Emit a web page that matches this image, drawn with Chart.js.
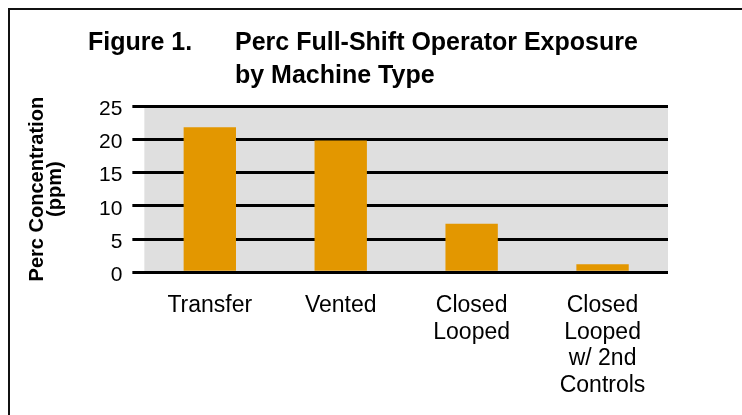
<!DOCTYPE html>
<html>
<head>
<meta charset="utf-8">
<script src="https://cdn.jsdelivr.net/npm/chart.js@4"></script>
<style>
  body { margin: 0; background: #fff; }
  #wrap { position: relative; width: 742px; height: 415px; overflow: hidden; }
  #chart { position: absolute; left: 0; top: 0; }
  #frame { position: absolute; left: 8px; top: 8px; width: 800px; height: 500px;
           border-left: 2px solid #111; border-top: 2px solid #111; }
  .t { position: absolute; top: 25px; font: bold 25px "Liberation Sans", Arial, sans-serif;
       line-height: 33px; color: #000; white-space: nowrap; }
</style>
</head>
<body>
<div id="wrap">
  <canvas id="chart" width="742" height="415"></canvas>
  <div id="frame"></div>
  <div class="t" style="left:88px">Figure 1.</div>
  <div class="t" style="left:235px">Perc Full-Shift Operator Exposure<br>by Machine Type</div>
</div>
<script>
// values
const categories = ['Transfer', 'Vented', ['Closed', 'Looped'], ['Closed', 'Looped', 'w/ 2nd', 'Controls']];
const exposure = [21.8, 19.8, 7.3, 1.2];
const yTitle = ['Perc Concentration', '(ppm)'];

// grey plot background
const plotBg = {
  id: 'plotBg',
  beforeDraw(chart) {
    const {ctx, chartArea: a} = chart;
    ctx.save();
    ctx.fillStyle = '#dfdfdf';
    ctx.fillRect(a.left, a.top, a.right - a.left, a.bottom - a.top);
    ctx.restore();
  }
};

const font = 'Liberation Sans, Arial, sans-serif';

new Chart(document.getElementById('chart'), {
  type: 'bar',
  data: {
    labels: categories,
    datasets: [{
      data: exposure,
      backgroundColor: '#e39700',
      barPercentage: 0.4,
      categoryPercentage: 1.0
    }]
  },
  options: {
    responsive: false,
    animation: false,
    devicePixelRatio: 1,
    layout: { padding: { left: 10, right: 74, top: 106, bottom: -4 } },
    plugins: { legend: { display: false }, tooltip: { enabled: false } },
    scales: {
      x: {
        grid: { display: false, drawTicks: false },
        border: { display: false },
        ticks: {
          color: '#000',
          padding: 20,
          maxRotation: 0,
          autoSkip: false,
          font: { family: font, size: 23, lineHeight: 1.16 }
        }
      },
      y: {
        min: 0,
        max: 25,
        border: { display: false },
        grid: { color: '#000', lineWidth: 3, tickLength: 12 },
        ticks: {
          stepSize: 5,
          color: '#000',
          padding: 10,
          labelOffset: 3,
          font: { family: font, size: 21 }
        },
        title: {
          display: true,
          text: yTitle,
          color: '#000',
          padding: { top: 18, bottom: 25 },
          font: { family: font, size: 20, weight: 'bold', lineHeight: 0.9 }
        }
      }
    }
  },
  plugins: [plotBg]
});
</script>
</body>
</html>
